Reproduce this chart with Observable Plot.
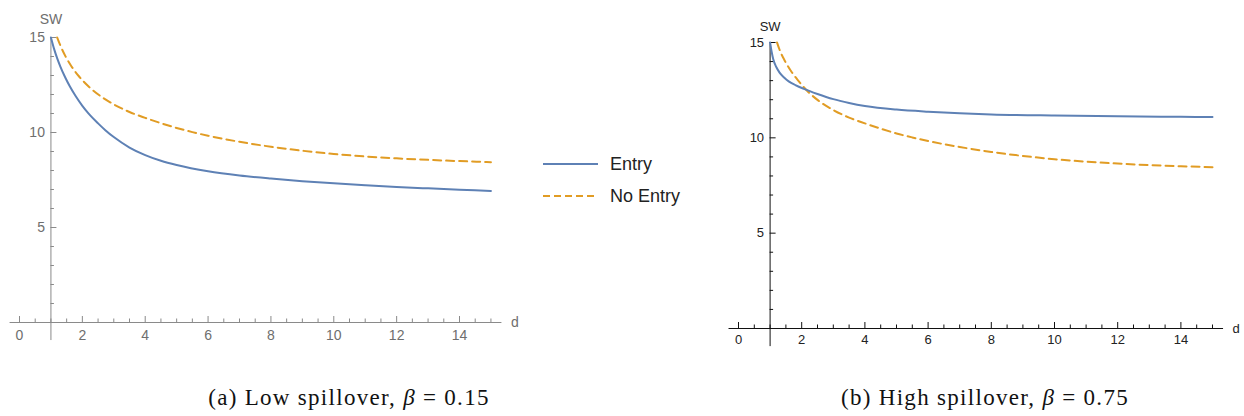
<!DOCTYPE html>
<html>
<head>
<meta charset="utf-8">
<script src="https://cdn.jsdelivr.net/npm/d3@7"></script>
<script src="https://cdn.jsdelivr.net/npm/@observablehq/plot@0.6"></script>
<style>
  html, body { margin: 0; padding: 0; background: #fff; }
  #root { position: relative; width: 1244px; height: 416px; overflow: hidden; font-family: "Liberation Sans", Arial, sans-serif; }
  .panel { position: absolute; top: 0; }
  .caption { position: absolute; top: 385px; width: 440px; text-align: center; font-family: "Liberation Serif", "DejaVu Serif", serif; font-size: 23px; letter-spacing: 1.3px; color: #111; white-space: nowrap; }
  .legend { position: absolute; left: 540px; top: 148px; font-size: 18px; color: #222; }
  .legend div { display: flex; align-items: center; height: 32px; }
  .legend svg { margin-right: 10px; }
</style>
</head>
<body>
<div id="root">
  <div id="left" class="panel" style="left:0px"></div>
  <div id="right" class="panel" style="left:700px"></div>
  <div class="legend">
    <div><svg width="60" height="10"><line x1="3" x2="58" y1="5" y2="5" stroke="#5E81B5" stroke-width="2"/></svg>Entry</div>
    <div><svg width="60" height="10"><line x1="3" x2="58" y1="5" y2="5" stroke="#E19C24" stroke-width="2" stroke-dasharray="7,4"/></svg>No Entry</div>
  </div>
  <div class="caption" style="left:129px">(a) Low spillover, <i>β</i> = 0.15</div>
  <div class="caption" style="left:765px">(b) High spillover, <i>β</i> = 0.75</div>
</div>
<script>
// ---- data ----
const seriesNames = ["Entry", "No Entry"];

// Panel (a): low spillover, beta = 0.15
const lowEntryD  = [1, 1.1, 1.2, 1.3, 1.46, 1.6, 1.78, 2, 2.2, 2.5, 2.74, 3, 3.5, 4, 4.5, 5, 6, 7, 8, 9, 10, 11, 12, 13, 14, 15];
const lowEntrySW = [15, 14.4, 13.9, 13.47, 12.88, 12.43, 11.93, 11.4, 10.99, 10.48, 10.11, 9.76, 9.21, 8.81, 8.51, 8.285, 7.955, 7.735, 7.575, 7.44, 7.325, 7.225, 7.135, 7.06, 6.99, 6.925];
const lowNoEntryD  = [1.2, 1.3, 1.46, 1.65, 1.89, 2.2, 2.53, 3, 3.5, 4, 4.5, 5, 5.5, 6, 7, 8, 9, 10, 11, 12, 13, 14, 15];
const lowNoEntrySW = [15, 14.58, 14.02, 13.49, 12.96, 12.42, 11.97, 11.48, 11.08, 10.77, 10.49, 10.24, 10.02, 9.83, 9.51, 9.25, 9.04, 8.87, 8.74, 8.64, 8.56, 8.495, 8.44];

// Panel (b): high spillover, beta = 0.75
const highEntryD  = [1, 1.05, 1.1, 1.2, 1.3, 1.45, 1.6, 1.8, 2.07, 2.5, 3, 3.5, 4, 5, 6, 7, 8, 10, 12, 14, 15];
const highEntrySW = [15, 14.5, 14.12, 13.7, 13.42, 13.15, 12.95, 12.77, 12.57, 12.3, 12.03, 11.83, 11.67, 11.48, 11.37, 11.29, 11.23, 11.17, 11.13, 11.1, 11.09];
const highNoEntryD  = [1.22, 1.3, 1.46, 1.65, 1.89, 2.2, 2.53, 3, 3.5, 4, 4.5, 5, 5.5, 6, 7, 8, 9, 10, 11, 12, 13, 14, 15];
const highNoEntrySW = [15, 14.62, 14.06, 13.53, 13.0, 12.42, 11.95, 11.46, 11.06, 10.76, 10.48, 10.23, 10.02, 9.83, 9.52, 9.26, 9.05, 8.88, 8.75, 8.65, 8.57, 8.51, 8.46];

// ticks
const xMajorTicks = [0, 2, 4, 6, 8, 10, 12, 14];
const xMinorTicks = [0.5, 1, 1.5, 2.5, 3, 3.5, 4.5, 5, 5.5, 6.5, 7, 7.5, 8.5, 9, 9.5, 10.5, 11, 11.5, 12.5, 13, 13.5, 14.5, 15];
const yMajorTicks = [5, 10, 15];
const yMinorTicks = [1, 2, 3, 4, 6, 7, 8, 9, 11, 12, 13, 14];
const xAxisLabel = "d";
const yAxisLabel = "SW";

const colors = {"Entry": "#5E81B5", "No Entry": "#E19C24"};

function toRows(ds, sws, name) { return ds.map((d, i) => ({d, sw: sws[i], series: name})); }

function panel(opts) {
  const {entryD, entrySW, noD, noSW, xRange, yRange, axisColor, labelColor, fontSize, xLabelDy, swDy, width, height} = opts;
  const pxPerX = (xRange[1] - xRange[0]) / 14;
  const pxPerY = (yRange[0] - yRange[1]) / 15;
  const entry = toRows(entryD, entrySW, seriesNames[0]);
  const noEntry = toRows(noD, noSW, seriesNames[1]);
  const majLenY = 6 / pxPerY, minLenY = 3.5 / pxPerY;
  const majLenX = 6 / pxPerX, minLenX = 3.5 / pxPerX;
  const xAxisStart = -0.3, xAxisEnd = 15.35, yAxisBottom = -0.95;
  return Plot.plot({
    width, height,
    style: {fontFamily: "'Liberation Sans', Arial, sans-serif", fontSize: fontSize + "px", background: "transparent", overflow: "visible"},
    x: {domain: [0, 14], range: xRange, axis: null},
    y: {domain: [0, 15], range: yRange, axis: null},
    marks: [
      // axes
      Plot.ruleY([0], {x1: xAxisStart, x2: xAxisEnd, stroke: axisColor, strokeWidth: 1}),
      Plot.ruleX([1], {y1: yAxisBottom, y2: 15, stroke: axisColor, strokeWidth: 1}),
      Plot.ruleX(xMajorTicks, {x: d => d, y1: 0, y2: majLenY, stroke: axisColor}),
      Plot.ruleX(xMinorTicks, {x: d => d, y1: 0, y2: minLenY, stroke: axisColor}),
      Plot.ruleY(yMajorTicks, {y: d => d, x1: 1, x2: 1 + majLenX, stroke: axisColor}),
      Plot.ruleY(yMinorTicks, {y: d => d, x1: 1, x2: 1 + minLenX, stroke: axisColor}),
      Plot.text(xMajorTicks, {x: d => d, y: 0, dy: xLabelDy, text: d => String(d), fill: labelColor}),
      Plot.text(yMajorTicks, {x: 1, y: d => d, dx: -6, textAnchor: "end", text: d => String(d), fill: labelColor}),
      Plot.text([yAxisLabel], {x: 1, y: 15, dy: swDy, text: d => d, fill: labelColor}),
      Plot.text([xAxisLabel], {x: xAxisEnd, y: 0, dx: 9, textAnchor: "start", text: d => d, fill: labelColor}),
      // curves
      Plot.line(noEntry, {x: "d", y: "sw", stroke: colors["No Entry"], strokeWidth: 2, strokeDasharray: "8,5", curve: "monotone-x"}),
      Plot.line(entry, {x: "d", y: "sw", stroke: colors["Entry"], strokeWidth: 2, curve: "monotone-x"})
    ]
  });
}

document.getElementById("left").appendChild(panel({
  entryD: lowEntryD, entrySW: lowEntrySW, noD: lowNoEntryD, noSW: lowNoEntrySW,
  xRange: [19, 459], yRange: [322, 37], axisColor: "#8a8a8a", labelColor: "#6e6e6e",
  fontSize: 14, xLabelDy: 13, swDy: -18, width: 540, height: 360
}));
document.getElementById("right").appendChild(panel({
  entryD: highEntryD, entrySW: highEntrySW, noD: highNoEntryD, noSW: highNoEntrySW,
  xRange: [38, 480.4], yRange: [328, 42], axisColor: "#111", labelColor: "#222",
  fontSize: 13, xLabelDy: 11, swDy: -16, width: 544, height: 360
}));
</script>
</body>
</html>
